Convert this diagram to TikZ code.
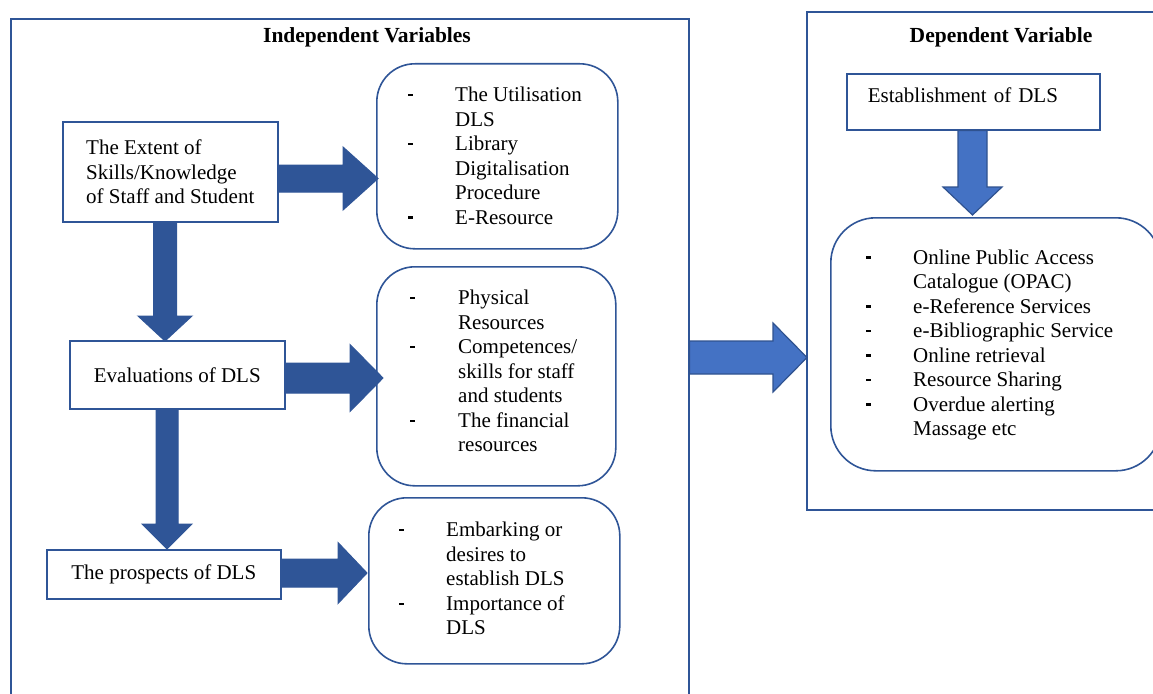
\documentclass[tikz,border=0pt]{standalone}
\usepackage{fontspec}
\setmainfont{Liberation Serif}
\usetikzlibrary{calc}
\definecolor{dkblue}{HTML}{2F5597}
\definecolor{ltblue}{HTML}{4472C4}
\definecolor{ltedge}{HTML}{2F528F}
\definecolor{boxedge}{HTML}{2F5597}
\newcommand{\dsh}{\rule[5.5pt]{4.5pt}{2.4pt}}
\begin{document}
\begin{tikzpicture}[x=1pt,y=-1pt,
  font=\fontsize{21}{24.5}\selectfont,
  box/.style={draw=boxedge, line width=1.6pt, inner sep=0pt, anchor=north west},
  rbox/.style={box, rounded corners=38pt},
  lst/.style={anchor=west, inner sep=0pt, align=left},
  titletext/.style={font=\fontsize{21.5}{24}\selectfont\bfseries, inner sep=0pt},
  fatR/.style n args={3}{to path={let \p1=(\tikztostart), \p2=(\tikztotarget) in
    (\x1,\y2+#1) -- (\x2-#3,\y2+#1) -- (\x2-#3,\y2+#2) -- (\x2,\y2) -- (\x2-#3,\y2-#2) -- (\x2-#3,\y2-#1) -- (\x1,\y2-#1) -- cycle}},
  fatD/.style n args={3}{to path={let \p1=(\tikztostart), \p2=(\tikztotarget) in
    (\x2-#1,\y1) -- (\x2-#1,\y2+#3) -- (\x2-#2,\y2+#3) -- (\x2,\y2) -- (\x2+#2,\y2+#3) -- (\x2+#1,\y2+#3) -- (\x2+#1,\y1) -- cycle}},
  darkarrow/.style={fill=dkblue, draw=dkblue, line width=1pt, line join=miter},
  lightarrow/.style={fill=ltblue, draw=ltedge, line width=1.2pt, line join=miter},
]
\clip (0,0) rectangle (1153,693);

% containers
\node[box, minimum width=678pt, minimum height=700pt] (L) at (10,18) {};
\node[box, minimum width=360pt, minimum height=498pt] (R) at (806,11) {};
\node[titletext] (tl) at (367,37) {Independent Variables};
\node[titletext] (tr) at (1001,37) {Dependent Variable};

% left-hand boxes
\node[box, minimum width=215pt, minimum height=100pt, align=left] (e1) at (62,121)
  {The Extent of\\Skills/Knowledge\\of Staff and Student};
\node[box, minimum width=215pt, minimum height=68pt] (e2) at (69,340) {Evaluations of DLS};
\node[box, minimum width=234pt, minimum height=49pt] (e3) at (46,549) {The prospects of DLS};

% rounded boxes
\node[rbox, minimum width=241pt, minimum height=185pt] (r1) at (376,63) {};
\node[rbox, minimum width=239pt, minimum height=219pt] (r2) at (376,266) {};
\node[rbox, minimum width=251pt, minimum height=166pt] (r3) at (368,497) {};
\node[rbox, rounded corners=45pt, minimum width=330pt, minimum height=253pt] (rr) at (830,217) {};

\node[lst] (l1) at (408,158) {\begin{tabular}{@{}p{47pt}@{}l@{}}
\dsh & The Utilisation\\ & DLS\\ \dsh & Library\\ & Digitalisation\\ & Procedure\\ \dsh & E-Resource\end{tabular}};
\node[lst] (l2) at (410,373.5) {\begin{tabular}{@{}p{48pt}@{}l@{}}
\dsh & Physical\\ & Resources\\ \dsh & Competences/\\ & skills for staff\\ & and students\\ \dsh & The financial\\ & resources\end{tabular}};
\node[lst] (l3) at (399,581) {\begin{tabular}{@{}p{47pt}@{}l@{}}
\dsh & Embarking or\\ & desires to\\ & establish DLS\\ \dsh & Importance of\\ & DLS\end{tabular}};
\node[lst] (l4) at (866,345) {\begin{tabular}{@{}p{47pt}@{}l@{}}
\dsh & Online Public Access\\ & Catalogue (OPAC)\\ \dsh & e-Reference Services\\ \dsh & e-Bibliographic Service\\ \dsh & Online retrieval\\ \dsh & Resource Sharing\\ \dsh & Overdue alerting\\ & Massage etc\end{tabular}};

% establishment box
\node[box, minimum width=253pt, minimum height=56pt, text width=211pt, inner xsep=21pt, align=left,
      text height=14pt, text depth=12pt] (es) at (846,73)
  {Establishment of DLS};

% arrow tips
\coordinate (t1) at (378,178.5);
\coordinate (t2) at (383,378);
\coordinate (t3) at (367,573);
\coordinate (t4) at (165,341);
\coordinate (t5) at (167,549);
\coordinate (t6) at (807,357.5);
\coordinate (t7) at (972.5,215);

\draw[darkarrow, fatR={13.5pt}{31.5pt}{35pt}] (e1.east) to (t1);
\draw[darkarrow, fatR={15pt}{33.5pt}{33pt}] (e2.east) to (t2);
\draw[darkarrow, fatR={14pt}{30.5pt}{29pt}] (e3.east) to (t3);
\draw[darkarrow, fatD={11.5pt}{27pt}{25pt}] (e1.south) to (t4);
\draw[darkarrow, fatD={11pt}{25pt}{25pt}] (e2.south) to (t5);
\draw[lightarrow, fatR={16.5pt}{34.5pt}{34pt}] (L.east) to (t6);
\draw[lightarrow, fatD={14.5pt}{29.5pt}{28pt}] (es.south) to (t7);
\end{tikzpicture}
\end{document}
